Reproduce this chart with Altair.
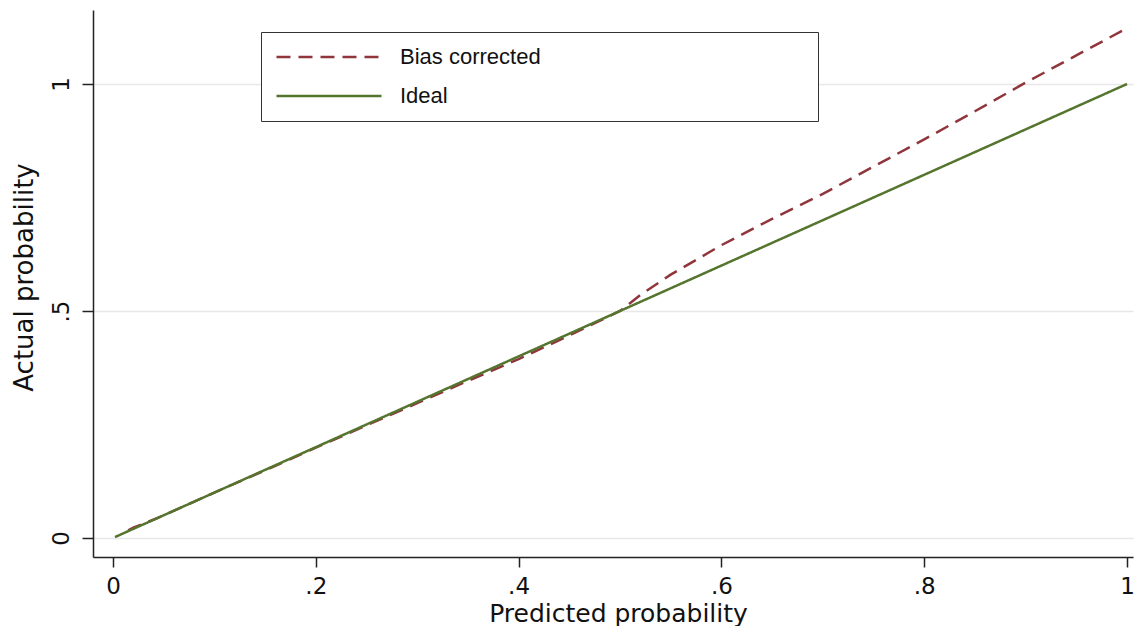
import altair as alt
import pandas as pd

# ---- data ----
series_names = ["Bias corrected", "Ideal"]

bias_x = [0.015, 0.02, 0.03, 0.05, 0.10, 0.15, 0.20, 0.25, 0.30, 0.35, 0.40, 0.45,
          0.50, 0.52, 0.55, 0.60, 0.65, 0.70, 0.75, 0.80, 0.85, 0.90, 0.95, 1.00]
bias_y = [0.017, 0.023, 0.031, 0.050, 0.100, 0.149, 0.199, 0.248, 0.297, 0.346, 0.394, 0.446,
          0.500, 0.535, 0.580, 0.645, 0.703, 0.758, 0.818, 0.878, 0.940, 1.003, 1.063, 1.123]

ideal_x = [0.002, 1.0]
ideal_y = [0.002, 1.0]

x_ticks = [0, 0.2, 0.4, 0.6, 0.8, 1]
y_ticks = [0, 0.5, 1]

rows = [{"x": a, "y": b, "series": series_names[0]} for a, b in zip(bias_x, bias_y)]
rows += [{"x": a, "y": b, "series": series_names[1]} for a, b in zip(ideal_x, ideal_y)]
df = pd.DataFrame(rows)

tick_font = "DejaVu Sans"
title_font = "DejaVu Sans"
label_expr = "datum.value == 0 ? '0' : datum.value == 1 ? '1' : replace(format(datum.value, '.1f'), '0.', '.')"

legend = alt.Legend(
    orient="none", legendX=168, legendY=22, direction="vertical", title=None,
    symbolType="stroke", symbolSize=11025, symbolStrokeWidth=2.4,
    clipHeight=22, labelOffset=17, rowPadding=17, padding=14,
    strokeColor="#333333", fillColor="white",
    labelFont="Liberation Sans", labelFontSize=22, labelColor="#111111",
    labelLimit=2000, labelExpr="pad(datum.label, 57, '\u00a0') + '\u200b'",
)

chart = alt.Chart(df).mark_line(strokeWidth=2.5).encode(
    x=alt.X("x:Q",
            scale=alt.Scale(domain=[-0.0197, 1.0059], nice=False, zero=False),
            axis=alt.Axis(values=x_ticks, labelExpr=label_expr, title="Predicted probability",
                          grid=False, tickSize=10, tickWidth=1.5, tickColor="#222222",
                          domainColor="#222222", domainWidth=1.5,
                          labelFont=tick_font, labelFontSize=23, labelColor="#111111",
                          labelBaseline="alphabetic", labelPadding=26, labelFlush=False,
                          titleFont=title_font, titleFontSize=25, titleFontWeight="normal",
                          titleColor="#111111", titleBaseline="alphabetic", titleAlign="center",
                          titleX=525, titleY=64)),
    y=alt.Y("y:Q",
            scale=alt.Scale(domain=[-0.0419, 1.1630], nice=False, zero=False),
            axis=alt.Axis(values=y_ticks, labelExpr=label_expr, title="Actual probability",
                          grid=True, gridColor="#e8e8e8", gridWidth=1.5,
                          tickSize=11, tickWidth=1.5, tickColor="#222222",
                          domainColor="#222222", domainWidth=1.5,
                          labelFont=tick_font, labelFontSize=23, labelColor="#111111",
                          labelAngle=270, labelAlign="center", labelBaseline="alphabetic",
                          labelPadding=14, labelFlush=False,
                          titleFont=title_font, titleFontSize=26, titleFontWeight="normal",
                          titleColor="#111111", titleBaseline="alphabetic", titleAlign="center",
                          titleAngle=270, titleX=-61, titleY=267)),
    color=alt.Color("series:N",
                    scale=alt.Scale(domain=series_names, range=["#90353B", "#55752F"]),
                    legend=legend),
    strokeDash=alt.StrokeDash("series:N",
                              scale=alt.Scale(domain=series_names, range=[[14, 8], [1, 0]]),
                              legend=legend),
    order="x:Q",
).properties(
    width=1040, height=547,
    autosize=alt.AutoSizeParams(type="none"),
    padding={"left": 85, "top": 2, "right": 2, "bottom": 69},
    background="white",
).configure_view(strokeWidth=0)

chart.save("out.html", embed_options={"renderer": "svg", "actions": False})
